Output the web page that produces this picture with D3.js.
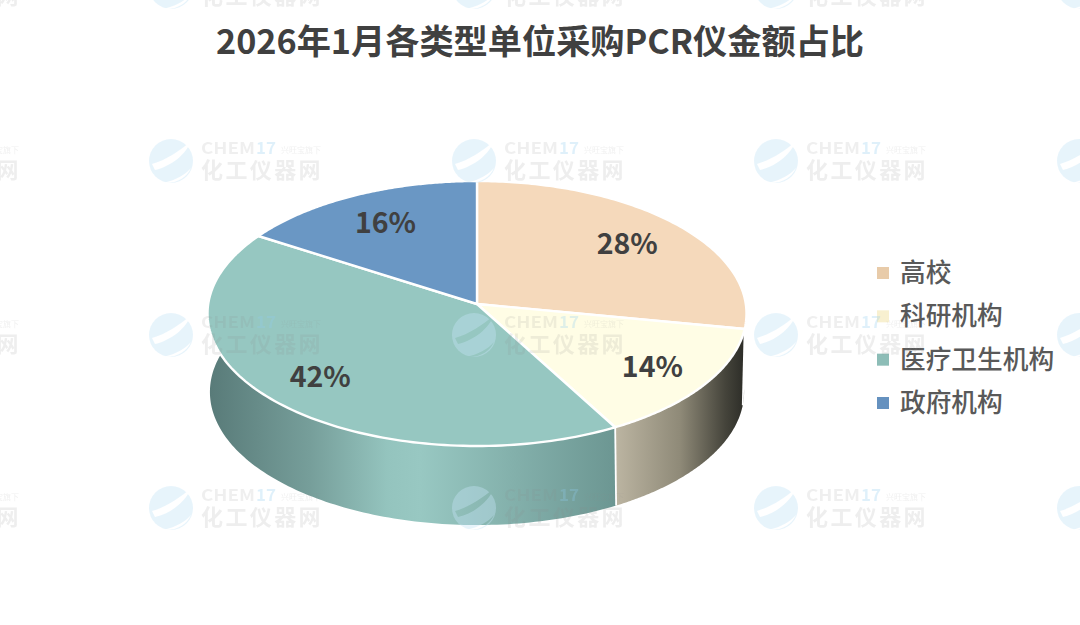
<!DOCTYPE html>
<html>
<head>
<meta charset="utf-8">
<script src="https://cdn.jsdelivr.net/npm/d3@7"></script>
<style>
  html, body { margin: 0; background: #fff; }
  text { font-family: "Noto Sans CJK SC", "Noto Sans", sans-serif; }
</style>
</head>
<body>
<div id="chart"></div>
<script>
const w = 1080;
const h = 625;

const titleText = '2026年1月各类型单位采购PCR仪金额占比';
const categories = ['高校', '科研机构', '医疗卫生机构', '政府机构'];
const shares = [28, 14, 42, 16];
const topColors = ['#f5d9bb', '#fffde5', '#96c7c1', '#6a97c4'];
const legendColors = ['#e8cba9', '#f8f0d0', '#8dbdb7', '#6591bf'];
const labelRadius = [0.75, 0.78, 0.77, 0.74];
const wallStops = [
  [[0, '#4a4a42'], [1, '#2f2f2a']],
  [[0, '#bcb5a2'], [0.5, '#8f8a78'], [0.85, '#45443b'], [1, '#2c2c27']],
  [[0, '#587a78'], [0.25, '#769e9a'], [0.44, '#94c4be'], [0.52, '#98c8c2'], [0.75, '#83b0ab'], [1, '#6c9692']],
  [[0, '#587a78'], [1, '#587a78']]
];

// pie lies on a tilted plane, so project the circle instead of a plain ellipse
const topPlane = { cx: 477, cy: 304, rx: 268.8, ry: 131.8, p: 0.0717 };
const bottomPlane = { cx: 477, cy: 380, rx: 266, ry: 132, p: 0.09 };

function project(plane, angle, f = 1) {
  const u = Math.sin(angle) * f;
  const v = -Math.cos(angle) * f;
  const d = 1 - plane.p * v;
  return [plane.cx + plane.rx * u / d, plane.cy + plane.ry * v / d];
}

function arcPoints(plane, a0, a1) {
  return d3.range(0, 121).map(i => project(plane, a0 + (a1 - a0) * i / 120));
}

const svg = d3.select('#chart')
  .append('svg')
  .attr('width', w)
  .attr('height', h)
  .style('display', 'block');

const line = d3.line();
const slices = d3.pie().sort(null).value(d => d)(shares);

svg.append('text')
  .attr('x', 540)
  .attr('y', 54)
  .attr('text-anchor', 'middle')
  .attr('font-size', 34.2)
  .attr('font-weight', 700)
  .attr('fill', '#404040')
  .text(titleText);

// side walls, only the part facing the viewer
const visFrom = Math.PI * 0.47;
const visTo = Math.PI * 1.56;
const defs = svg.append('defs');

slices.forEach((s, i) => {
  const a0 = Math.max(s.startAngle, visFrom);
  const a1 = Math.min(s.endAngle, visTo);
  if (a1 <= a0) return;
  const pts = arcPoints(topPlane, a0, a1).concat(arcPoints(bottomPlane, a0, a1).reverse());
  const xs = d3.extent(pts, d => d[0]);
  const grad = defs.append('linearGradient')
    .attr('id', `wall-${i}`)
    .attr('gradientUnits', 'userSpaceOnUse')
    .attr('x1', xs[0]).attr('x2', xs[1])
    .attr('y1', 0).attr('y2', 0);
  grad.selectAll('stop')
    .data(wallStops[i])
    .enter().append('stop')
    .attr('offset', d => d[0])
    .attr('stop-color', d => d[1]);
  svg.append('path')
    .attr('d', line(pts) + 'Z')
    .attr('fill', `url(#wall-${i})`);
});

// white seams between the walls
slices.filter(s => s.endAngle > visFrom && s.endAngle < visTo).forEach(s => {
  svg.append('path')
    .attr('d', line([project(topPlane, s.endAngle), project(bottomPlane, s.endAngle)]))
    .attr('stroke', '#fff')
    .attr('stroke-width', 1.8)
    .attr('fill', 'none');
});

svg.selectAll('path.slice')
  .data(slices)
  .enter().append('path')
  .attr('class', 'slice')
  .attr('d', s => line([[topPlane.cx, topPlane.cy]].concat(arcPoints(topPlane, s.startAngle, s.endAngle))) + 'Z')
  .attr('fill', (s, i) => topColors[i])
  .attr('stroke', '#fff')
  .attr('stroke-width', 2.4)
  .attr('stroke-linejoin', 'round');

svg.selectAll('text.share')
  .data(slices)
  .enter().append('text')
  .attr('class', 'share')
  .attr('x', (s, i) => project(topPlane, (s.startAngle + s.endAngle) / 2, labelRadius[i])[0])
  .attr('y', (s, i) => project(topPlane, (s.startAngle + s.endAngle) / 2, labelRadius[i])[1] + 11)
  .attr('text-anchor', 'middle')
  .attr('font-size', 28.5)
  .attr('font-weight', 700)
  .attr('fill', '#404040')
  .text(s => `${s.data}%`);

const legendY = d3.scalePoint().domain(categories).range([273, 403]);

const legend = svg.selectAll('g.legend')
  .data(categories)
  .enter().append('g')
  .attr('class', 'legend')
  .attr('transform', d => `translate(877,${legendY(d)})`);

legend.append('rect')
  .attr('x', 0)
  .attr('y', -6)
  .attr('width', 12)
  .attr('height', 12)
  .attr('fill', (d, i) => legendColors[i]);

legend.append('text')
  .attr('x', 23)
  .attr('y', 9)
  .attr('font-size', 25.7)
  .attr('font-weight', 500)
  .attr('fill', '#595959')
  .text(d => d);

// repeated watermark sits over the chart
const mask = defs.append('mask')
  .attr('id', 'logo-cut')
  .attr('maskUnits', 'userSpaceOnUse')
  .attr('x', -5).attr('y', -5)
  .attr('width', 55).attr('height', 55);
mask.append('rect')
  .attr('x', -5).attr('y', -5)
  .attr('width', 55).attr('height', 55)
  .attr('fill', '#fff');
mask.append('path')
  .attr('d', 'M2,24C16,20 30,11 41,1C36,14 22,26 5,30Z M13,43C26,40 35,35 41,28C37,37 27,44 13,43Z')
  .attr('fill', '#000');

const markX = [-152, 150, 453, 755, 1058];
const markY = [-34, 140, 314, 487];
const marks = svg.append('g')
  .attr('pointer-events', 'none')
  .selectAll('g')
  .data(d3.cross(markX, markY))
  .enter().append('g')
  .attr('transform', d => `translate(${d[0]},${d[1]})`);

marks.append('circle')
  .attr('cx', 21).attr('cy', 21)
  .attr('r', 22)
  .attr('fill', '#c5e4f6')
  .attr('opacity', 0.4)
  .attr('mask', 'url(#logo-cut)');

marks.append('text')
  .attr('x', 51).attr('y', 14)
  .attr('font-size', 16)
  .attr('font-weight', 700)
  .attr('font-family', 'Liberation Sans')
  .attr('textLength', 54)
  .attr('lengthAdjust', 'spacingAndGlyphs')
  .attr('fill', '#8a8a8a')
  .attr('opacity', 0.13)
  .text('CHEM');

marks.append('text')
  .attr('x', 106).attr('y', 14)
  .attr('font-size', 16)
  .attr('font-weight', 700)
  .attr('font-family', 'Liberation Sans')
  .attr('textLength', 20)
  .attr('lengthAdjust', 'spacingAndGlyphs')
  .attr('fill', '#8fcdf0')
  .attr('opacity', 0.28)
  .text('17');

marks.append('text')
  .attr('x', 131).attr('y', 13)
  .attr('font-size', 8)
  .attr('fill', '#8a8a8a')
  .attr('opacity', 0.13)
  .text('兴旺宝旗下');

marks.append('text')
  .attr('x', 51).attr('y', 38)
  .attr('font-size', 22)
  .attr('font-weight', 700)
  .attr('letter-spacing', 2.4)
  .attr('fill', '#8a8a8a')
  .attr('opacity', 0.14)
  .text('化工仪器网');
</script>
</body>
</html>
